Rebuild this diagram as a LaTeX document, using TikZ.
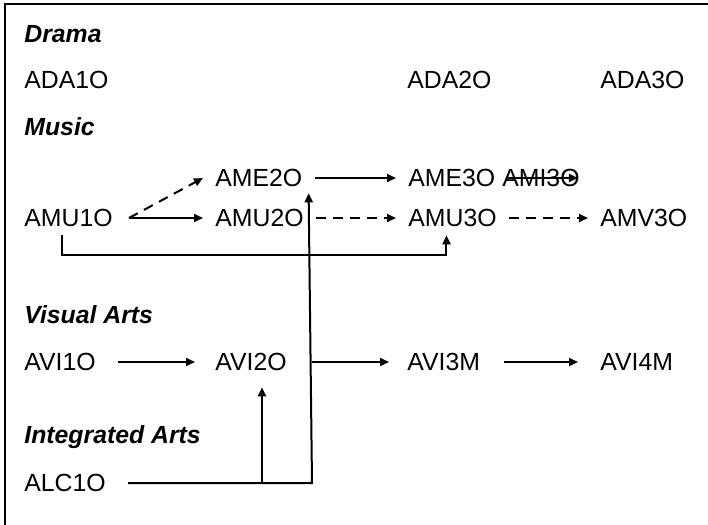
\documentclass[tikz,border=0pt]{standalone}
\usepackage{fontspec}
\setmainfont{Liberation Sans}
\usepackage{tikz}
\usetikzlibrary{arrows.meta}

\begin{document}
\begin{tikzpicture}[
    x=0.5pt, y=-0.5pt,
    every node/.style={font=\fontsize{12.4}{15}\selectfont},
    course/.style={anchor=west, inner xsep=6pt, inner ysep=4pt,
        text height=8.9pt, text depth=0pt},
    subject/.style={anchor=west, inner xsep=0pt,
        font=\fontsize{12.4}{15}\selectfont\bfseries\itshape},
    prereq/.style={line width=1pt, -{Triangle[length=4.5pt,width=4pt]}},
    option/.style={prereq, dash pattern=on 5pt off 3.5pt}
]
\useasboundingbox (0,0) rectangle (708,525);
\draw[line width=1pt] (5,525) -- (5,4) -- (708,4);

\node[subject] (drama) at (24,34) {Drama};
\node[course] (ada1) at (12,80) {ADA1O};
\node[course] (ada2) at (395,80) {ADA2O};
\node[course] (ada3) at (588,80) {ADA3O};

\node[subject] (music) at (24,127) {Music};
\node[course] (ame2) at (203,178) {AME2O};
\node[course] (ame3) at (396,178) {AME3O};
\node[course] (ami3) at (490,178) {AMI3O};
\node[course] (amu1) at (12,218) {AMU1O};
\node[course] (amu2) at (203,218) {AMU2O};
\node[course] (amu3) at (396,218) {AMU3O};
\node[course] (amv3) at (588,218) {AMV3O};

\node[subject] (visual) at (24,315) {Visual Arts};
\node[course] (avi1) at (12,362) {AVI1O};
\node[course] (avi2) at (203,362) {AVI2O};
\node[course] (avi3) at (395,362) {AVI3M};
\node[course] (avi4) at (588,362) {AVI4M};

\node[subject] (integrated) at (24,437) {Integrated Arts};
\node[course] (alc1) at (12,483) {ALC1O};

\coordinate (jct) at (312,483);
\coordinate (split) at (262,483);

% music
\draw[option] ([xshift=2pt]amu1.east) -- (ame2.west);
\draw[prereq] ([xshift=2pt]amu1.east) -- (amu2.west);
\draw[prereq] (ame2.east) -- (ame3.west);
\draw[prereq] (ame3.east) -- ([xshift=-7pt]ami3.east);
\draw[option] (amu2.east) -- (amu3.west);
\draw[option] (amu3.east) -- (amv3.west);
\draw[prereq] ([xshift=-3pt]amu1.south) -- ([xshift=-3pt,yshift=-10pt]amu1.south)
    -| ([xshift=-3pt]amu3.south);

% visual arts
\draw[prereq, shorten <=5pt, shorten >=4pt] (avi1.east) -- (avi2.west);
\draw[prereq, shorten >=3pt] (jct |- avi2) -- (avi3.west);
\draw[prereq, shorten <=6pt, shorten >=5pt] (avi3.east) -- (avi4.west);

% integrated arts
\draw[prereq] ([xshift=5pt]alc1.east) -- (jct) -- ([xshift=-3pt,yshift=1pt]ame2.south east);
\draw[prereq, shorten >=4pt] (split) -- (split |- avi2.south);
\end{tikzpicture}
\end{document}
